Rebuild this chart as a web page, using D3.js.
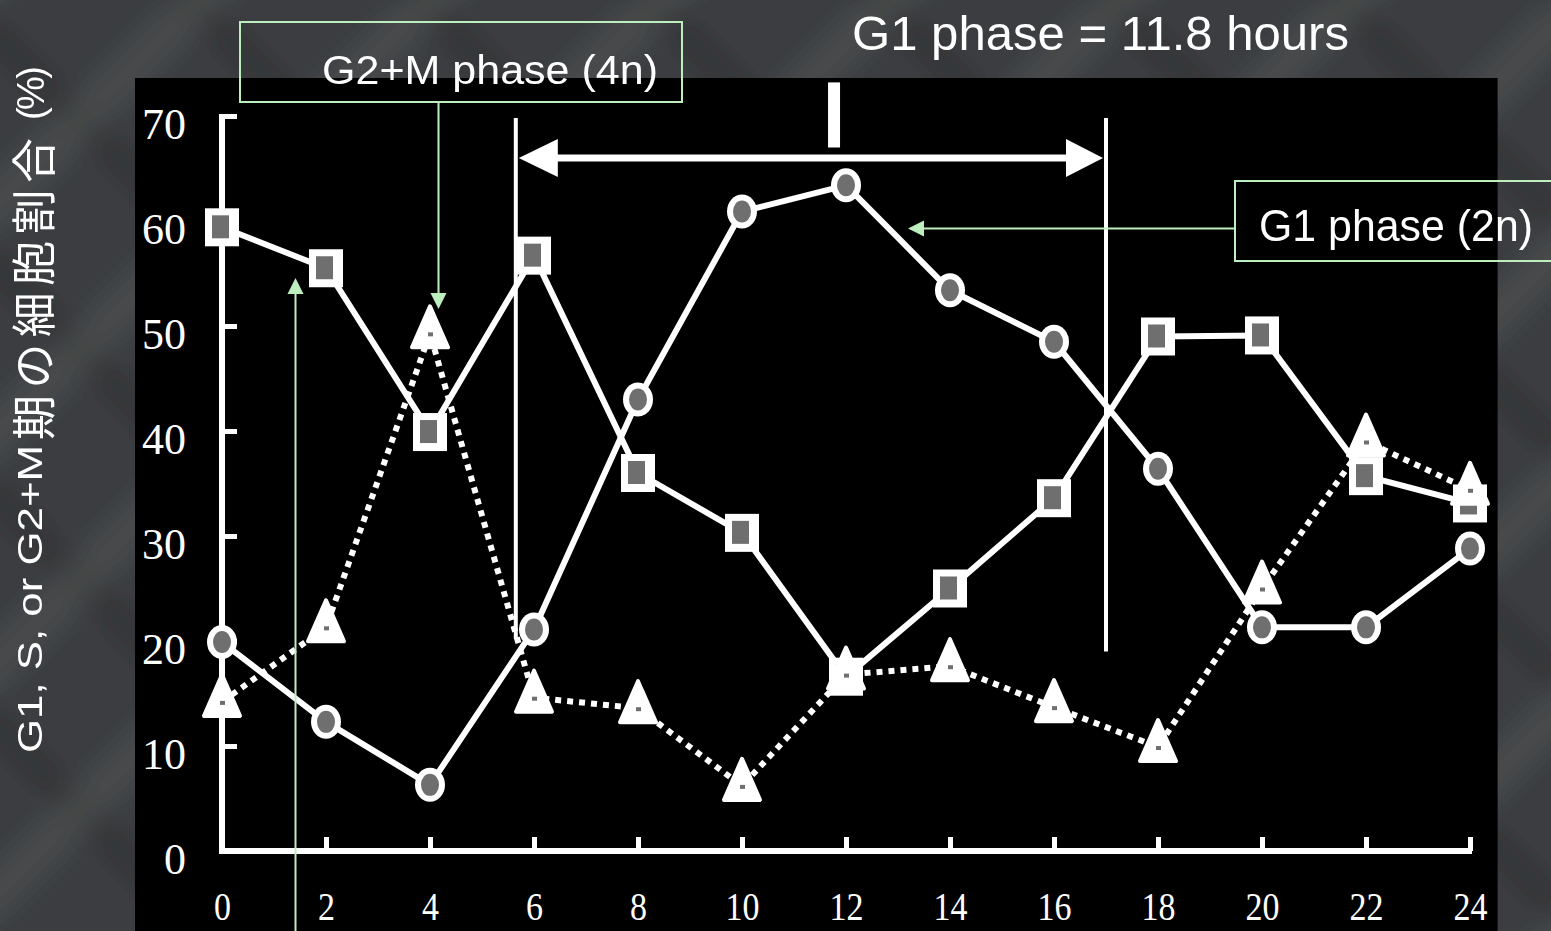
<!DOCTYPE html>
<html><head><meta charset="utf-8">
<script src="https://cdn.jsdelivr.net/npm/d3@7"></script>
<style>html,body{margin:0;padding:0;background:#3a3c3e;overflow:hidden}</style>
</head><body>
<svg id="c" width="1551" height="931"></svg>
<script>
// ---- data ----
const hours = [0, 2, 4, 6, 8, 10, 12, 14, 16, 18, 20, 22, 24];
const g1Values = [19.9, 12.3, 6.3, 21.1, 43.0, 60.9, 63.4, 53.4, 48.5, 36.4, 21.3, 21.3, 28.8];   // circles
const sValues = [59.4, 55.5, 39.9, 56.7, 36.0, 30.3, 16.6, 25.0, 33.6, 49.0, 49.1, 35.7, 33.1];    // squares
const g2mValues = [14.2, 21.3, 49.3, 14.6, 13.6, 6.2, 16.8, 17.6, 13.7, 9.9, 25.0, 39.0, 34.4];    // triangles (dotted)
const xTickValues = [0, 2, 4, 6, 8, 10, 12, 14, 16, 18, 20, 22, 24];
const yTickValues = [0, 10, 20, 30, 40, 50, 60, 70];
const phaseStart = 5.65, phaseEnd = 17.0;   // hours of the two vertical marker lines
const phaseMid = 11.77;
const titleText = "G1 phase = 11.8 hours";
const g2mLabel = "G2+M phase (4n)";
const g1Label = "G1 phase (2n)";
const yTitleLatin = "G1, S, or G2+M";
const yTitleCJK = "期の細胞割合";
const yTitleUnit = "(%)";

const svg = d3.select("#c");
const W = 1551, H = 931;

// ---- background texture (decorative woven look) ----
const defs = svg.append("defs");
const blur = defs.append("filter").attr("id", "bl").attr("x", "-5%").attr("y", "-5%").attr("width", "110%").attr("height", "110%");
blur.append("feGaussianBlur").attr("stdDeviation", 12);
const bg = svg.append("g").attr("filter", "url(#bl)");
bg.append("rect").attr("x", -50).attr("y", -50).attr("width", W + 100).attr("height", H + 100).attr("fill", "#3b3d3f");
const bandStep = 230;
for (let k = -8; k < 14; k++) {
  const o = k * bandStep;
  bg.append("path").attr("d", `M${o},-60 L${o + 60},-60 L${o + 60 - 1100},1040 L${o - 1100},1040 Z`)
    .attr("fill", "#525456").attr("opacity", 0.55);
  bg.append("path").attr("d", `M${o + 110},-60 L${o + 150},-60 L${o + 150 + 1100},1040 L${o + 110 + 1100},1040 Z`)
    .attr("fill", "#2c2f31").attr("opacity", 0.45);
}

// ---- plot panel ----
svg.append("rect").attr("x", 135).attr("y", 78).attr("width", 1497.6 - 135).attr("height", H - 78).attr("fill", "#000");

// ---- scales ----
const x = d3.scaleLinear().domain([0, 24]).range([222, 1470]);
const y = d3.scaleLinear().domain([0, 70]).range([851, 116]);

// ---- axes ----
const serif = "'Liberation Serif', 'Times New Roman', serif";
const xAxis = svg.append("g").attr("transform", `translate(0,${y(0)})`)
  .call(d3.axisBottom(x).tickValues(xTickValues).tickSizeInner(-14).tickSizeOuter(0).tickFormat(d3.format("d")));
xAxis.select(".domain").attr("stroke", "#fff").attr("stroke-width", 6).attr("d", `M${x(0) - 3},0H${x(24) + 2}`);
xAxis.selectAll(".tick line").attr("stroke", "#fff").attr("stroke-width", 5);
xAxis.selectAll(".tick text").attr("fill", "#fff").attr("y", 69).attr("dy", null)
  .attr("transform", "scale(0.85,1)")
  .style("font-family", serif).style("font-size", "40px");

const yAxis = svg.append("g").attr("transform", `translate(${x(0)},0)`)
  .call(d3.axisLeft(y).tickValues(yTickValues).tickSizeInner(-15).tickSizeOuter(0).tickPadding(36));
yAxis.select(".domain").attr("stroke", "#fff").attr("stroke-width", 6).attr("d", `M0,${y(0) + 3}V${y(70) - 2}`);
yAxis.selectAll(".tick line").attr("stroke", "#fff").attr("stroke-width", 5);
yAxis.selectAll(".tick text").attr("fill", "#fff").attr("dy", 22)
  .style("font-family", serif).style("font-size", "44px");
svg.selectAll(".domain, .tick line").attr("stroke-linecap", "butt");
yAxis.selectAll(".tick").filter(d => d === 0).select("line").remove();
xAxis.selectAll(".tick").filter(d => d === 0).select("line").remove();

// ---- phase marker lines ----
const wl = svg.append("g").attr("stroke", "#fff");
wl.append("line").attr("x1", x(phaseStart)).attr("x2", x(phaseStart)).attr("y1", y(69.8)).attr("y2", y(20.2)).attr("stroke-width", 4);
wl.append("line").attr("x1", x(phaseEnd)).attr("x2", x(phaseEnd)).attr("y1", y(69.8)).attr("y2", y(19.0)).attr("stroke-width", 4);
wl.append("line").attr("x1", x(phaseStart) + 30).attr("x2", x(phaseEnd) - 30).attr("y1", y(66)).attr("y2", y(66)).attr("stroke-width", 7);
const ay = y(66);
svg.append("path").attr("fill", "#fff")
  .attr("d", `M${x(phaseStart) + 3},${ay} L${x(phaseStart) + 42},${ay - 19} L${x(phaseStart) + 42},${ay + 19} Z`);
svg.append("path").attr("fill", "#fff")
  .attr("d", `M${x(phaseEnd) - 3},${ay} L${x(phaseEnd) - 40},${ay - 19} L${x(phaseEnd) - 40},${ay + 19} Z`);
svg.append("rect").attr("x", x(phaseMid) - 6).attr("y", y(73.2)).attr("width", 12).attr("height", y(67.0) - y(73.2)).attr("fill", "#fff");

// ---- series lines ----
const line = d3.line().x((d, i) => x(hours[i])).y(d => y(d));
svg.append("path").datum(g2mValues).attr("d", line).attr("fill", "none").attr("stroke", "#fff")
  .attr("stroke-width", 6).attr("stroke-dasharray", "6,6");
svg.append("path").datum(sValues).attr("d", line).attr("fill", "none").attr("stroke", "#fff").attr("stroke-width", 6).attr("stroke-linejoin", "round");
svg.append("path").datum(g1Values).attr("d", line).attr("fill", "none").attr("stroke", "#fff").attr("stroke-width", 6).attr("stroke-linejoin", "round");

// ---- markers ----
const gray = "#6f6f6f";
const sq = svg.append("g").selectAll("g").data(sValues).join("g")
  .attr("transform", (d, i) => `translate(${x(hours[i])},${y(d)})`);
sq.append("rect").attr("x", -17).attr("y", -19).attr("width", 34).attr("height", 38).attr("fill", "#fff");
sq.append("rect").attr("x", -10).attr("y", -12).attr("width", 17).attr("height", 23).attr("fill", gray);

const ci = svg.append("g").selectAll("g").data(g1Values).join("g")
  .attr("transform", (d, i) => `translate(${x(hours[i])},${y(d)})`);
ci.append("ellipse").attr("rx", 15).attr("ry", 17).attr("fill", "#fff");
ci.append("ellipse").attr("rx", 9).attr("ry", 11).attr("fill", gray);

const tr = svg.append("g").selectAll("g").data(g2mValues).join("g")
  .attr("transform", (d, i) => `translate(${x(hours[i])},${y(d)})`);
tr.append("path").attr("d", "M0,-27 L18,14 L-18,14 Z").attr("fill", "#fff").attr("stroke", "#fff").attr("stroke-width", 4).attr("stroke-linejoin", "round");
tr.append("rect").attr("x", -2).attr("y", -1).attr("width", 5).attr("height", 4).attr("fill", gray);

// ---- annotations ----
const green = "#bdeebd";
const sans = "'Liberation Sans', Arial, sans-serif";
svg.append("text").attr("x", 852).attr("y", 50).attr("fill", "#fff").style("font-family", sans).style("font-size", "49px")
  .attr("textLength", 497).attr("lengthAdjust", "spacingAndGlyphs").text(titleText);

// G2+M box
svg.append("rect").attr("x", 240).attr("y", 22).attr("width", 442).attr("height", 80).attr("fill", "none").attr("stroke", green).attr("stroke-width", 2);
svg.append("text").attr("x", 322).attr("y", 84).attr("fill", "#fff").style("font-family", sans).style("font-size", "40px")
  .attr("textLength", 336).attr("lengthAdjust", "spacingAndGlyphs").text(g2mLabel);
svg.append("line").attr("x1", 438.5).attr("x2", 438.5).attr("y1", 102).attr("y2", 296).attr("stroke", green).attr("stroke-width", 2);
svg.append("path").attr("d", "M438.5,309 L430.5,293 L446.5,293 Z").attr("fill", green);

// G1 box
svg.append("rect").attr("x", 1235).attr("y", 181).attr("width", 330).attr("height", 80).attr("fill", "none").attr("stroke", green).attr("stroke-width", 2);
svg.append("text").attr("x", 1259).attr("y", 241).attr("fill", "#fff").style("font-family", sans).style("font-size", "44px")
  .attr("textLength", 274).attr("lengthAdjust", "spacingAndGlyphs").text(g1Label);
svg.append("line").attr("x1", 1235).attr("x2", 920).attr("y1", 228.5).attr("y2", 228.5).attr("stroke", green).attr("stroke-width", 2);
svg.append("path").attr("d", "M908,228.5 L924,220.5 L924,236.5 Z").attr("fill", green);

// S-phase pointer (label lies below the visible area)
svg.append("line").attr("x1", 295.5).attr("x2", 295.5).attr("y1", 931).attr("y2", 290).attr("stroke", green).attr("stroke-width", 2);
svg.append("path").attr("d", "M295.5,278 L287.5,294 L303.5,294 Z").attr("fill", green);

// ---- y axis title (rotated) ----
svg.append("text").attr("transform", "translate(42,753) rotate(-90)").attr("fill", "#fff")
  .style("font-family", sans).style("font-size", "35px")
  .attr("textLength", 308).attr("lengthAdjust", "spacingAndGlyphs").text(yTitleLatin);
svg.append("text").attr("transform", "translate(51,440) rotate(-90)").attr("fill", "#fff")
  .style("font-family", "'Noto Sans CJK JP', sans-serif").style("font-size", "45px")
  .attr("textLength", 302).attr("lengthAdjust", "spacing").text(yTitleCJK);
svg.append("text").attr("transform", "translate(44,120) rotate(-90)").attr("fill", "#fff")
  .style("font-family", sans).style("font-size", "38px")
  .attr("textLength", 54).attr("lengthAdjust", "spacing").text(yTitleUnit);
</script>
</body></html>
